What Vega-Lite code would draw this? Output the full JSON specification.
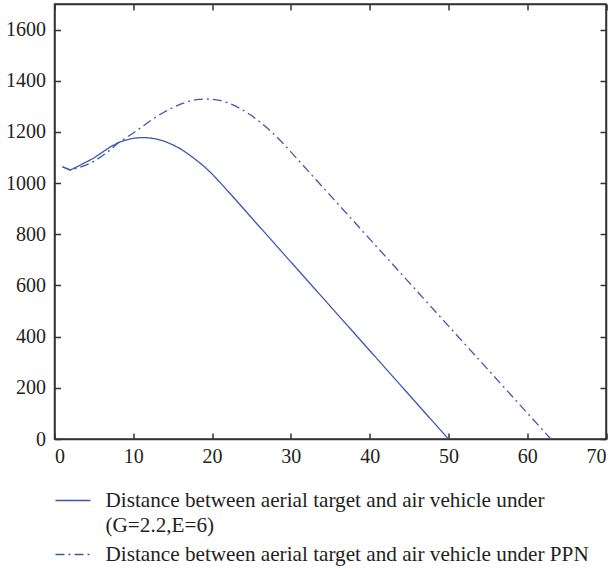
{
  "$schema": "https://vega.github.io/schema/vega-lite/v6.json",
  "autosize": {"type": "none"},
  "padding": {"left": 54.5, "top": 4, "right": 10, "bottom": 130},
  "width": 551.5,
  "height": 435,
  "background": "white",
  "config": {
    "view": {"stroke": "#333", "strokeWidth": 1.5},
    "font": "Liberation Serif",
    "axis": {"grid": false, "domainColor": "#333", "domainWidth": 1.5, "tickColor": "#333", "tickWidth": 1.5, "tickSize": -6, "labelFont": "Liberation Serif", "labelFontSize": 20, "labelColor": "#231f20", "title": null, "format": "d"}
  },
  "data": {"values": [
    {"t": 1, "d": 1064, "s": "A"}, {"t": 2, "d": 1051, "s": "A"}, {"t": 3, "d": 1066, "s": "A"}, {"t": 4, "d": 1082, "s": "A"}, {"t": 5, "d": 1098, "s": "A"}, {"t": 6, "d": 1119, "s": "A"}, {"t": 7, "d": 1140, "s": "A"}, {"t": 8, "d": 1157, "s": "A"}, {"t": 9, "d": 1168, "s": "A"}, {"t": 10, "d": 1175, "s": "A"}, {"t": 11, "d": 1178, "s": "A"}, {"t": 12, "d": 1177, "s": "A"}, {"t": 13, "d": 1172, "s": "A"}, {"t": 14, "d": 1163, "s": "A"}, {"t": 15, "d": 1150, "s": "A"}, {"t": 16, "d": 1134, "s": "A"}, {"t": 17, "d": 1113, "s": "A"}, {"t": 18, "d": 1090, "s": "A"}, {"t": 19, "d": 1065, "s": "A"}, {"t": 20, "d": 1036, "s": "A"}, {"t": 21, "d": 1003, "s": "A"}, {"t": 22, "d": 969, "s": "A"}, {"t": 23, "d": 935, "s": "A"}, {"t": 25, "d": 865, "s": "A"}, {"t": 30, "d": 692, "s": "A"}, {"t": 35, "d": 519, "s": "A"}, {"t": 40, "d": 346, "s": "A"}, {"t": 45, "d": 173, "s": "A"}, {"t": 50, "d": 0, "s": "A"},
    {"t": 1, "d": 1064, "s": "B"}, {"t": 2, "d": 1051, "s": "B"}, {"t": 3, "d": 1060, "s": "B"}, {"t": 4, "d": 1070, "s": "B"}, {"t": 5, "d": 1085, "s": "B"}, {"t": 6, "d": 1105, "s": "B"}, {"t": 7, "d": 1128, "s": "B"}, {"t": 8, "d": 1155, "s": "B"}, {"t": 9, "d": 1176, "s": "B"}, {"t": 10, "d": 1196, "s": "B"}, {"t": 11, "d": 1218, "s": "B"}, {"t": 12, "d": 1240, "s": "B"}, {"t": 13, "d": 1261, "s": "B"}, {"t": 14, "d": 1279, "s": "B"}, {"t": 15, "d": 1295, "s": "B"}, {"t": 16, "d": 1309, "s": "B"}, {"t": 17, "d": 1319, "s": "B"}, {"t": 18, "d": 1326, "s": "B"}, {"t": 19, "d": 1329, "s": "B"}, {"t": 20, "d": 1328, "s": "B"}, {"t": 21, "d": 1323, "s": "B"}, {"t": 22, "d": 1314, "s": "B"}, {"t": 23, "d": 1301, "s": "B"}, {"t": 24, "d": 1284, "s": "B"}, {"t": 25, "d": 1264, "s": "B"}, {"t": 26, "d": 1241, "s": "B"}, {"t": 27, "d": 1215, "s": "B"}, {"t": 28, "d": 1187, "s": "B"}, {"t": 29, "d": 1156, "s": "B"}, {"t": 30, "d": 1122, "s": "B"}, {"t": 35, "d": 952, "s": "B"}, {"t": 40, "d": 782, "s": "B"}, {"t": 45, "d": 612, "s": "B"}, {"t": 50, "d": 442, "s": "B"}, {"t": 55, "d": 272, "s": "B"}, {"t": 60, "d": 102, "s": "B"}, {"t": 63, "d": 0, "s": "B"}
  ]},
  "resolve": {"axis": {"x": "independent", "y": "independent"}},
  "layer": [
    {
      "mark": {"type": "line", "strokeWidth": 1.3},
      "encoding": {
        "x": {"field": "t", "type": "quantitative", "scale": {"domain": [0, 70], "nice": false}, "axis": {"values": [0, 10, 20, 30, 40, 50, 60, 70], "labelPadding": 13}},
        "y": {"field": "d", "type": "quantitative", "scale": {"domain": [0, 1700], "nice": false}, "axis": {"values": [0, 200, 400, 600, 800, 1000, 1200, 1400, 1600], "labelPadding": 15}},
        "color": {"field": "s", "type": "nominal", "scale": {"domain": ["A", "B"], "range": ["#3d57b0", "#3d57b0"]},
          "legend": {"orient": "bottom", "direction": "vertical", "title": null, "symbolType": "stroke", "symbolSize": 1225, "symbolStrokeWidth": 1.3, "labelFont": "Liberation Serif", "labelFontSize": 21.2, "labelColor": "#231f20", "labelBaseline": "alphabetic", "labelOffset": 14, "labelLimit": 600, "offset": 16, "rowPadding": 0,
            "labelExpr": "datum.label == 'A' ? ['Distance between aerial target and air vehicle under', '(G=2.2,E=6)'] : 'Distance between aerial target and air vehicle under PPN'",
            "encode": {"labels": {"update": {"lineHeight": {"value": 25}, "dy": {"value": 6}}}}}},
        "strokeDash": {"field": "s", "type": "nominal", "scale": {"domain": ["A", "B"], "range": [[1, 0], [9, 4, 2, 4]]}, "legend": {"orient": "bottom", "direction": "vertical", "title": null, "symbolType": "stroke", "symbolSize": 1225, "symbolStrokeWidth": 1.3, "labelFont": "Liberation Serif", "labelFontSize": 21.2, "labelColor": "#231f20", "labelBaseline": "alphabetic", "labelOffset": 14, "labelLimit": 600, "offset": 16, "rowPadding": 0,
            "labelExpr": "datum.label == 'A' ? ['Distance between aerial target and air vehicle under', '(G=2.2,E=6)'] : 'Distance between aerial target and air vehicle under PPN'",
            "encode": {"labels": {"update": {"lineHeight": {"value": 25}, "dy": {"value": 6}}}}}}
      }
    },
    {
      "mark": {"type": "line", "opacity": 0},
      "encoding": {
        "x": {"field": "t", "type": "quantitative", "axis": {"orient": "top", "labels": false, "values": [0, 10, 20, 30, 40, 50, 60, 70]}},
        "y": {"field": "d", "type": "quantitative", "axis": {"orient": "right", "labels": false, "values": [0, 200, 400, 600, 800, 1000, 1200, 1400, 1600]}},
        "detail": {"field": "s"}
      }
    }
  ]
}
